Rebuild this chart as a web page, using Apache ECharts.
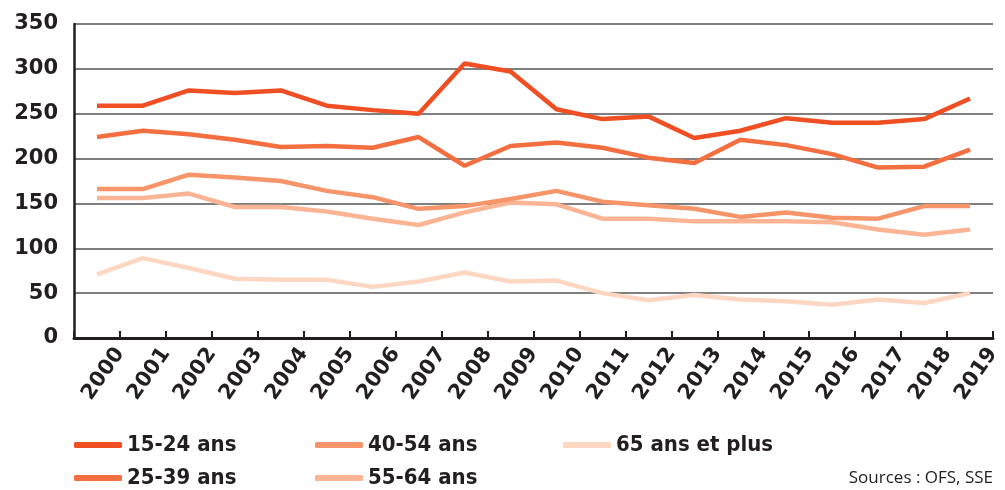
<!DOCTYPE html>
<html>
<head>
<meta charset="utf-8">
<script src="https://cdn.jsdelivr.net/npm/echarts@6/dist/echarts.min.js"></script>
<style>
  html, body { margin: 0; padding: 0; background: #fff; }
  #chart { width: 1005px; height: 490px; }
</style>
</head>
<body>
<div id="chart"></div>
<script>
  var years = ['2000', '2001', '2002', '2003', '2004', '2005', '2006', '2007', '2008', '2009',
    '2010', '2011', '2012', '2013', '2014', '2015', '2016', '2017', '2018', '2019'];

  var age1524 = [259, 259, 276, 273, 276, 259, 254, 250, 306, 297, 255, 244, 247, 223, 231, 245, 240, 240, 244, 267];
  var age2539 = [224, 231, 227, 221, 213, 214, 212, 224, 192, 214, 218, 212, 201, 195, 221, 215, 205, 190, 191, 210];
  var age4054 = [166, 166, 182, 179, 175, 164, 157, 144, 147, 155, 164, 152, 148, 144, 135, 140, 134, 133, 147, 147];
  var age5564 = [156, 156, 161, 146, 146, 141, 133, 126, 140, 151, 149, 133, 133, 130, 130, 130, 129, 121, 115, 121];
  var age65 = [71, 89, 78, 66, 65, 65, 57, 63, 73, 63, 64, 50, 42, 48, 43, 41, 37, 43, 39, 50];

  var seriesNames = ['15-24 ans', '25-39 ans', '40-54 ans', '55-64 ans', '65 ans et plus'];
  var seriesData = [age1524, age2539, age4054, age5564, age65];
  var colors = ['#f04e23', '#f36f3f', '#f7956a', '#fbb595', '#fdd7c2'];

  var dark = '#231f20';
  var legendText = {
    fontFamily: "'DejaVu Sans Condensed', 'DejaVu Sans'",
    fontWeight: 'bold',
    fontSize: 22,
    color: dark
  };

  function makeLegend(names, left) {
    return {
      orient: 'vertical',
      left: left,
      top: 434,
      padding: 0,
      itemGap: 11,
      icon: 'roundRect',
      itemWidth: 48,
      itemHeight: 6,
      textStyle: legendText,
      data: names
    };
  }

  var myChart = echarts.init(document.getElementById('chart'));
  var option = {
    animation: false,
    color: colors,
    grid: {
      left: 74,
      right: 12,
      top: 24,
      bottom: 152,
      containLabel: false
    },
    legend: [
      makeLegend([seriesNames[0], seriesNames[1]], 74),
      makeLegend([seriesNames[2], seriesNames[3]], 315),
      makeLegend([seriesNames[4]], 563)
    ],
    xAxis: [{
      type: 'category',
      boundaryGap: true,
      data: years,
      axisLine: { lineStyle: { color: dark, width: 3 } },
      axisTick: { show: false },
      axisLabel: { show: false }
    }, {
      // ticks and year labels sit on the band edges
      type: 'value',
      position: 'bottom',
      min: 0,
      max: years.length,
      interval: 1,
      axisLine: { show: false },
      axisTick: { show: true, inside: true, length: 7, lineStyle: { color: dark, width: 2 } },
      splitLine: { show: false },
      axisLabel: {
        rotate: 55,
        margin: 12,
        showMinLabel: true,
        showMaxLabel: true,
        fontFamily: 'DejaVu Sans',
        fontWeight: 'bold',
        fontSize: 21,
        color: dark,
        formatter: function (v) {
          return v >= 1 ? years[v - 1] : '';
        }
      }
    }],
    yAxis: {
      type: 'value',
      min: 0,
      max: 350,
      interval: 50,
      axisLine: { show: true, lineStyle: { color: dark, width: 2.5 } },
      axisTick: { show: false },
      axisLabel: {
        margin: 16,
        fontFamily: 'DejaVu Sans',
        fontWeight: 'bold',
        fontSize: 21,
        color: dark
      },
      splitLine: { lineStyle: { color: '#555', width: 1.5 } }
    },
    graphic: [{
      type: 'text',
      right: 12,
      top: 470,
      style: {
        text: 'Sources : OFS, SSE',
        fontFamily: 'Open Sans',
        fontSize: 17,
        fill: '#222'
      }
    }],
    series: seriesNames.map(function (name, i) {
      return {
        name: name,
        type: 'line',
        xAxisIndex: 0,
        data: seriesData[i],
        symbol: 'none',
        z: 10 - i,
        lineStyle: { width: 4.5, color: colors[i] },
        itemStyle: { color: colors[i] }
      };
    })
  };
  myChart.setOption(option);
</script>
</body>
</html>
